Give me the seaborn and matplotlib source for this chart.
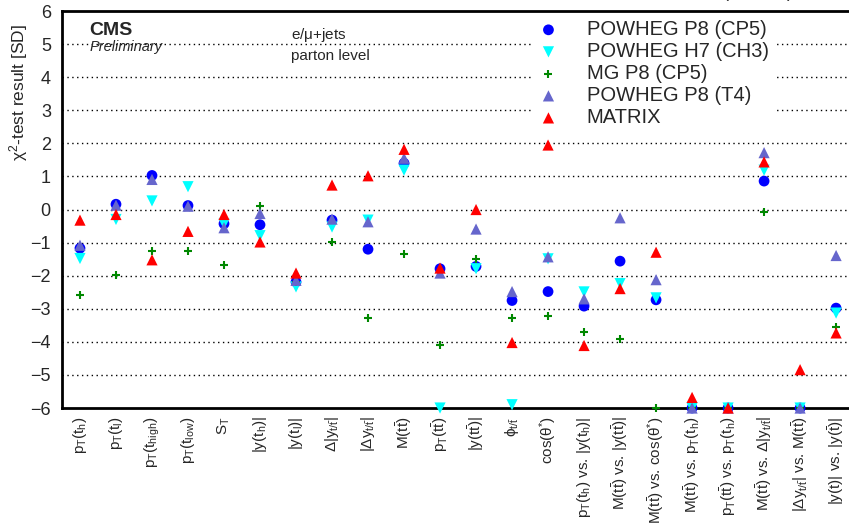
import matplotlib
matplotlib.use("Agg")
import matplotlib.pyplot as plt
import numpy as np
import pandas as pd
import seaborn as sns

categories = [
    r"$p_{T}(t_{h})$", r"$p_{T}(t_{l})$", r"$p_{T}(t_{high})$", r"$p_{T}(t_{low})$",
    r"$S_{T}$", r"$|y(t_{h})|$", r"$|y(t_{l})|$", r"$\Delta|y_{t/\bar{t}}|$",
    r"$|\Delta y_{t/\bar{t}}|$", r"$M(t\bar{t})$", r"$p_{T}(t\bar{t})$", r"$|y(t\bar{t})|$",
    r"$\phi_{t/\bar{t}}$", r"$\cos(\theta^{*})$",
    r"$p_{T}(t_{h})$ vs. $|y(t_{h})|$", r"$M(t\bar{t})$ vs. $|y(t\bar{t})|$",
    r"$M(t\bar{t})$ vs. $\cos(\theta^{*})$", r"$M(t\bar{t})$ vs. $p_{T}(t_{h})$",
    r"$p_{T}(t\bar{t})$ vs. $p_{T}(t_{h})$", r"$M(t\bar{t})$ vs. $\Delta|y_{t/\bar{t}}|$",
    r"$|\Delta y_{t/\bar{t}}|$ vs. $M(t\bar{t})$", r"$|y(t)|$ vs. $|y(\bar{t})|$",
]

powheg_p8_cp5 = [-1.17, 0.16, 1.03, 0.12, -0.43, -0.46, -2.19, -0.32, -1.20, 1.40, -1.79,
                 -1.72, -2.75, -2.48, -2.92, -1.56, -2.73, -6.0, -6.0, 0.86, -6.0, -2.98]
powheg_h7_ch3 = [-1.48, -0.30, 0.26, 0.69, -0.44, -0.79, -2.34, -0.53, -0.32, 1.19, -6.0,
                 -1.79, -5.9, -1.49, -2.49, -2.24, -2.67, -6.0, -6.0, 1.19, -6.0, -3.13]
mg_p8_cp5 = [-2.59, -1.97, -1.25, -1.25, -1.69, 0.12, -2.20, -0.99, -3.27, -1.33, -4.11,
             -1.49, -3.29, -3.22, -3.70, -3.90, -6.0, -6.0, -6.0, -0.07, -6.0, -3.56]
powheg_p8_t4 = [-1.08, 0.13, 0.91, 0.10, -0.55, -0.12, -2.14, -0.29, -0.37, 1.55, -1.92,
                -0.59, -2.48, -1.43, -2.70, -0.25, -2.12, -6.0, -6.0, 1.72, -6.0, -1.39]
matrix = [-0.32, -0.15, -1.52, -0.66, -0.15, -0.98, -1.92, 0.74, 1.02, 1.82, -1.77,
          0.0, -4.02, 1.95, -4.11, -2.39, -1.29, -5.68, -6.0, 1.44, -4.84, -3.73]

series = {
    "POWHEG P8 (CP5)": (powheg_p8_cp5, "o", "#0000ff", 60),
    "POWHEG H7 (CH3)": (powheg_h7_ch3, "v", "#00ffff", 65),
    "MG P8 (CP5)": (mg_p8_cp5, "+", "#008800", 30),
    "POWHEG P8 (T4)": (powheg_p8_t4, "^", "#6666cc", 65),
    "MATRIX": (matrix, "^", "#ff0000", 65),
}

sns.set_style("white")
plt.rcParams["font.family"] = ["Liberation Sans", "DejaVu Sans"]
plt.rcParams["mathtext.fontset"] = "custom"
plt.rcParams["mathtext.rm"] = "Liberation Sans"
plt.rcParams["mathtext.it"] = "Liberation Sans:italic"
plt.rcParams["mathtext.bf"] = "Liberation Sans:bold"
plt.rcParams["mathtext.default"] = "regular"

fig = plt.figure(figsize=(8.49, 5.31), dpi=100)
ax = fig.add_axes([0.073, 0.2316, 0.933, 0.7476])

x = np.arange(len(categories))
for name, (vals, marker, color, size) in series.items():
    df = pd.DataFrame({"x": x, "y": vals})
    lw = 1.5 if marker == "+" else 0
    sns.scatterplot(data=df, x="x", y="y", marker=marker, color=color, s=size,
                    linewidth=lw, edgecolor=color if marker == "+" else "none",
                    label=name, ax=ax, clip_on=False, zorder=3)

ax.set_xlim(-0.5, len(categories) - 0.5)
ax.set_ylim(-6, 6)
ax.set_yticks(range(-6, 7))
for v in range(-5, 6):
    ax.axhline(v, color="black", linestyle=(0, (1, 2.5)), linewidth=1, zorder=1)

ax.set_xticks(x)
ax.set_xticklabels(categories, rotation=90, fontsize=11)
ax.set_xticks(np.arange(0.5, len(categories) - 0.5, 1), minor=True)
ax.tick_params(axis="x", which="major", length=0, pad=6)
ax.tick_params(axis="x", which="minor", direction="in", length=14, width=1, color="black")
ax.tick_params(axis="y", which="major", direction="in", length=18, width=1,
               color="black", labelsize=13, pad=8)
ax.set_xlabel("")
ax.set_ylabel(r"$\chi^{2}$-test result [SD]", fontsize=12.5)
ax.yaxis.set_label_coords(-0.040, 0.795)

for side in ["left", "bottom", "top", "right"]:
    ax.spines[side].set_visible(True)
    ax.spines[side].set_color("black")
    ax.spines[side].set_linewidth(2)

ax.text(0.035, 0.94, "CMS", transform=ax.transAxes, fontsize=14, fontweight="bold", va="baseline")
ax.text(0.035, 0.90, "Preliminary", transform=ax.transAxes, fontsize=10.5, style="italic", va="baseline")
ax.text(0.289, 0.93, r"e/$\mu$+jets", transform=ax.transAxes, fontsize=11, va="baseline")
ax.text(0.289, 0.876, "parton level", transform=ax.transAxes, fontsize=11, va="baseline")
fig.text(0.934, 1.003, r"138 fb$^{-1}$ (13 TeV)", fontsize=13, ha="right", va="baseline")

leg = ax.legend(loc="upper left", bbox_to_anchor=(0.59, 1.0), fontsize=14.5,
                frameon=True, facecolor="white", edgecolor="none", framealpha=1,
                handlelength=1.0, handletextpad=1.4, labelspacing=0.15,
                borderpad=0.25, borderaxespad=0.2)
leg.set_zorder(2)

fig.savefig("out.png", dpi=100)
